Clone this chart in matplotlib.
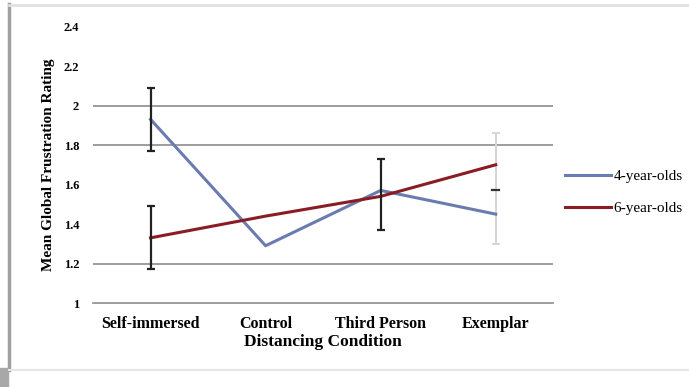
import numpy as np
import matplotlib.pyplot as plt

conditions = ["Self-immersed", "Control", "Third Person", "Exemplar"]
four_year = [1.93, 1.29, 1.57, 1.45]
six_year = [1.33, 1.44, 1.54, 1.70]

# error bars as (center, half-width) per condition; None where none drawn
err_four = [(1.93, 0.16), None, None, None]
err_six = [(1.33, 0.16), None, (1.55, 0.18), None]
err_exemplar = (1.58, 0.28)

yticks = [1, 1.2, 1.4, 1.6, 1.8, 2, 2.2, 2.4]
grid_levels = [1.2, 1.8, 2]

plt.rcParams['font.family'] = ['Liberation Serif', 'DejaVu Serif']

fig = plt.figure(figsize=(6.89, 3.87), dpi=100)
ax = fig.add_axes([0.135, 0.217, 0.668, 0.7145])

x = np.arange(len(conditions))

for g in grid_levels:
    ax.axhline(g, color='#8c8c8c', lw=1.2, zorder=0)

ax.plot(x, four_year, color='#6a7bb0', lw=2.2, label='4-year-olds', zorder=3)
ax.plot(x, six_year, color='#8a1c24', lw=2.2, label='6-year-olds', zorder=3)

for errs in (err_four, err_six):
    for xi, e in zip(x, errs):
        if e is None:
            continue
        c, h = e
        ax.errorbar(xi, c, yerr=h, fmt='none', ecolor='#222222', elinewidth=1.6,
                    capsize=3, capthick=1.6, zorder=4)

ax.errorbar(3, err_exemplar[0], yerr=err_exemplar[1], fmt='none', ecolor='#d4d4d4',
            elinewidth=1.4, capsize=3, capthick=1.4, zorder=2)
ax.plot([2.97, 3.03], [1.57, 1.57], color='#333333', lw=1.6, zorder=2)

ax.set_xlim(-0.5, 3.5)
ax.set_ylim(1, 2.4)
ax.set_yticks(yticks)
ax.set_yticklabels([f"{t:g}" for t in yticks])
ax.set_xticks(x)
ax.set_xticklabels(conditions)
ax.tick_params(axis='y', labelsize=9, length=0, pad=10)
ax.tick_params(axis='x', labelsize=11.5, length=0, pad=9)
for lab in ax.get_xticklabels() + ax.get_yticklabels():
    lab.set_fontweight('bold')

for s in ('top', 'right', 'left'):
    ax.spines[s].set_visible(False)
ax.spines['bottom'].set_color('#8c8c8c')
ax.spines['bottom'].set_linewidth(1.2)

ax.set_xlabel("Distancing Condition", fontsize=12.5, fontweight='bold', labelpad=2)
ax.set_ylabel("Mean Global Frustration Rating", fontsize=11, fontweight='bold', labelpad=6)

ax.legend(loc='center left', bbox_to_anchor=(0.995, 0.40), frameon=False,
          fontsize=11, handlelength=3.0, handletextpad=0.2, labelspacing=1.2)

# outer frame
fig.add_artist(plt.Line2D([0.013, 0.013], [0.045, 0.99], color='#a0a0a0', lw=2.5))
fig.add_artist(plt.Line2D([0.013, 1.0], [0.988, 0.988], color='#e0e0e0', lw=2))
fig.add_artist(plt.Line2D([0.013, 1.0], [0.045, 0.045], color='#e6e6e6', lw=1.5))
fig.add_artist(plt.Rectangle((0, 0), 0.012, 0.048, color='#a8a8a8'))

fig.savefig("out.png", dpi=100)
